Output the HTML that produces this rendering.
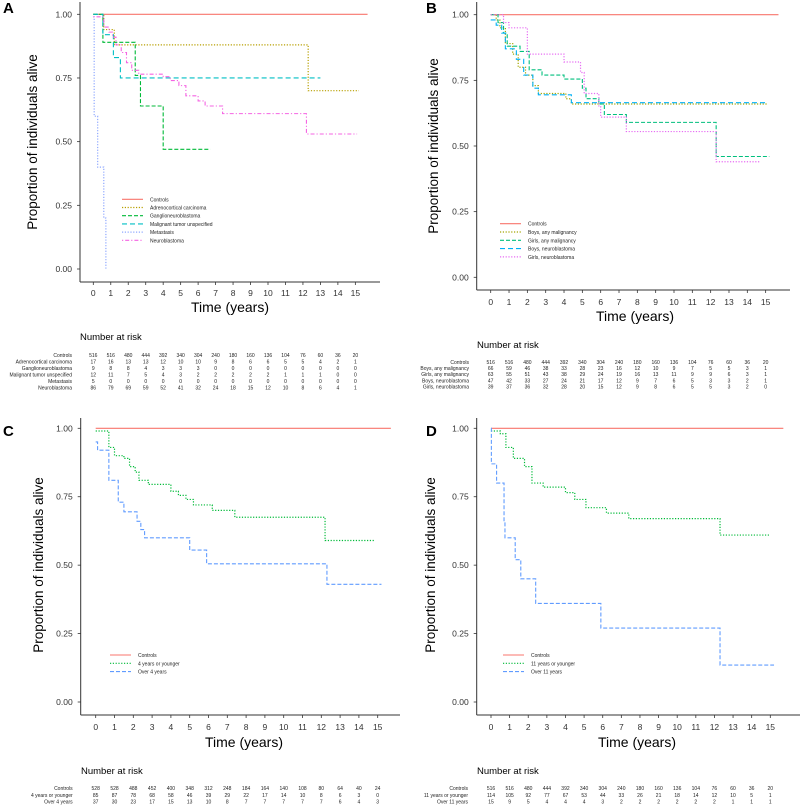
<!DOCTYPE html>
<html><head><meta charset="utf-8">
<style>
html,body{margin:0;padding:0;background:#fff;}
svg{display:block;font-family:"Liberation Sans",Arial,sans-serif;}
</style></head>
<body>
<svg id="fig" width="800" height="807" viewBox="0 0 800 807" xmlns="http://www.w3.org/2000/svg"></svg>
<script>
// ---------- DATA ----------
const riskTimes = [0,1,2,3,4,5,6,7,8,9,10,11,12,13,14,15];
const yTicks = [0,0.25,0.5,0.75,1];
const yTickLabels = ["0.00","0.25","0.50","0.75","1.00"];

// Panel A
const aNames = ["Controls","Adrenocortical carcinoma","Ganglioneuroblastoma","Malignant tumor unspecified","Metastasis","Neuroblastoma"];
const aControlsT = [0]; const aControlsV = [1]; const aControlsEnd = 15.7;
const aAdrenoT = [0,0.6,1.2,12.3]; const aAdrenoV = [1,0.94,0.88,0.70]; const aAdrenoEnd = 15.2;
const aGanglioT = [0,0.55,2.4,2.7,4.0]; const aGanglioV = [1,0.89,0.76,0.64,0.47]; const aGanglioEnd = 6.7;
const aMalignT = [0,0.55,1.15,1.55]; const aMalignV = [1,0.92,0.83,0.75]; const aMalignEnd = 13.0;
const aMetaT = [0,0.05,0.25,0.6,0.72]; const aMetaV = [0.99,0.6,0.4,0.2,0]; const aMetaEnd = 0.72;
const aNeuroT = [0,0.6,0.9,1.1,1.3,1.6,1.9,2.2,2.6,4.0,4.4,4.9,5.3,6.0,6.4,7.4,12.2];
const aNeuroV = [0.99,0.95,0.93,0.91,0.88,0.85,0.81,0.78,0.765,0.755,0.74,0.72,0.68,0.66,0.64,0.61,0.53];
const aNeuroEnd = 15.1;
const aRiskControls = [516,516,480,444,392,340,304,240,180,160,136,104,76,60,36,20];
const aRiskAdreno = [17,16,13,13,12,10,10,9,8,6,6,5,5,4,2,1];
const aRiskGanglio = [9,8,8,4,3,3,3,0,0,0,0,0,0,0,0,0];
const aRiskMalign = [12,11,7,5,4,3,2,2,2,2,2,1,1,1,0,0];
const aRiskMeta = [5,0,0,0,0,0,0,0,0,0,0,0,0,0,0,0];
const aRiskNeuro = [86,79,69,59,52,41,32,24,18,15,12,10,8,6,4,1];

// Panel B
const bNames = ["Controls","Boys, any malignancy","Girls, any malignancy","Boys, neuroblastoma","Girls, neuroblastoma"];
const bControlsT = [0]; const bControlsV = [1]; const bControlsEnd = 15.7;
const bBoysAnyT = [0,0.3,0.5,0.8,1.2,1.5,1.9,2.3,2.6,4.1,4.4]; const bBoysAnyV = [1,0.98,0.95,0.89,0.85,0.80,0.77,0.73,0.70,0.68,0.66]; const bBoysAnyEnd = 15.1;
const bGirlsAnyT = [0,0.4,0.7,0.9,1.6,2.1,2.8,4.0,5.0,5.2,5.9,6.2,7.4,12.3]; const bGirlsAnyV = [1,0.97,0.93,0.88,0.86,0.79,0.77,0.755,0.72,0.68,0.66,0.62,0.59,0.46]; const bGirlsAnyEnd = 15.2;
const bBoysNeuroT = [0,0.3,0.6,0.8,1.4,1.8,2.3,2.6,4.4]; const bBoysNeuroV = [0.98,0.96,0.93,0.87,0.83,0.77,0.72,0.695,0.665]; const bBoysNeuroEnd = 15.1;
const bGirlsNeuroT = [0,0.7,1.0,2.0,4.0,4.9,5.1,5.9,6.0,7.4,12.3]; const bGirlsNeuroV = [1,0.97,0.95,0.85,0.82,0.78,0.70,0.65,0.61,0.555,0.44]; const bGirlsNeuroEnd = 14.7;
const bRiskControls = [516,516,480,444,392,340,304,240,180,160,136,104,76,60,36,20];
const bRiskBoysAny = [66,59,46,38,33,28,23,16,12,10,9,7,5,5,3,1];
const bRiskGirlsAny = [63,55,51,43,38,29,24,19,16,13,11,9,9,6,3,1];
const bRiskBoysNeuro = [47,42,33,27,24,21,17,12,9,7,6,5,3,3,2,1];
const bRiskGirlsNeuro = [39,37,36,32,28,20,15,12,9,8,6,5,5,3,2,0];

// Panel C
const cNames = ["Controls","4 years or younger","Over 4 years"];
const cControlsT = [0]; const cControlsV = [1]; const cControlsEnd = 15.7;
const cYoungT = [0,0.7,1.0,1.5,1.8,2.1,2.3,2.8,4.0,4.4,4.8,5.2,6.2,7.4,12.2]; const cYoungV = [0.99,0.93,0.90,0.89,0.86,0.84,0.81,0.795,0.77,0.755,0.74,0.72,0.70,0.675,0.59]; const cYoungEnd = 14.8;
const cOldT = [0,0.1,0.7,1.2,1.5,2.2,2.4,2.6,5.0,5.9,12.3]; const cOldV = [0.95,0.92,0.81,0.73,0.695,0.66,0.63,0.60,0.555,0.505,0.43]; const cOldEnd = 15.2;
const cRiskControls = [528,528,488,452,400,348,312,248,184,164,140,108,80,64,40,24];
const cRiskYoung = [85,87,78,68,58,46,39,29,22,17,14,10,8,6,3,0];
const cRiskOld = [37,30,23,17,15,13,10,8,7,7,7,7,7,6,4,3];

// Panel D
const dNames = ["Controls","11 years or younger","Over 11 years"];
const dControlsT = [0]; const dControlsV = [1]; const dControlsEnd = 15.7;
const dYoungT = [0,0.5,0.8,1.2,1.8,2.2,2.8,4.0,4.5,5.1,6.2,7.4,12.3]; const dYoungV = [0.99,0.98,0.93,0.89,0.86,0.80,0.785,0.765,0.74,0.71,0.69,0.67,0.61]; const dYoungEnd = 15.0;
const dOldT = [0,0.02,0.3,0.7,0.75,1.3,1.6,2.4,5.9,12.3]; const dOldV = [1,0.87,0.80,0.66,0.60,0.52,0.45,0.36,0.27,0.135]; const dOldEnd = 15.2;
const dRiskControls = [516,516,480,444,392,340,304,240,180,160,136,104,76,60,36,20];
const dRiskYoung = [114,105,92,77,67,53,44,33,26,21,18,14,12,10,5,1];
const dRiskOld = [15,9,5,4,4,4,3,2,2,2,2,2,2,1,1,1];

// ---------- DRAWING ----------
const NS = "http://www.w3.org/2000/svg";
const svg = document.getElementById('fig');
function el(tag, attrs, parent, text){
  const e = document.createElementNS(NS, tag);
  for (const k in attrs) e.setAttribute(k, attrs[k]);
  if (text !== undefined) e.textContent = text;
  (parent||svg).appendChild(e);
  return e;
}
const styles = {
  solid:{dash:"", w:1.1},
  dotted:{dash:"1.2 1.6", w:1.2},
  dashed:{dash:"4 2", w:1.1},
  longdash:{dash:"5 3", w:1.1},
  dotdash:{dash:"1.2 2 4 2", w:1.1}
};

function drawPanel(cfg){
  const g = el('g', {}, svg);
  
  
  const X = t => cfg.ox + t * cfg.px;
  const Y = v => cfg.y0 - v * (cfg.y0 - cfg.y1);
  // letter
  const L = el('text', {x:cfg.letterX, y:cfg.letterY, 'font-size':15, 'font-weight':'bold', fill:'#000'}, g, cfg.id.toUpperCase());
  
  
  // axes
  const ya = el('line', {x1:cfg.axisX, x2:cfg.axisX, y1:cfg.axisTop, y2:cfg.axisBottom, stroke:'#333', 'stroke-width':1}, g);
  
  
  const xa = el('line', {x1:cfg.axisX, x2:cfg.axisRight, y1:cfg.axisBottom, y2:cfg.axisBottom, stroke:'#333', 'stroke-width':1}, g);
  
  
  yTicks.forEach((v,i)=>{
    el('line',{x1:cfg.axisX-3,x2:cfg.axisX,y1:Y(v),y2:Y(v),stroke:'#333','stroke-width':0.8},g);
    const t = el('text',{x:cfg.axisX-8,y:Y(v)+3,'font-size':8.5,'text-anchor':'end',fill:'#333'},g,yTickLabels[i]);
    
    
  });
  riskTimes.forEach(tm=>{
    el('line',{x1:X(tm),x2:X(tm),y1:cfg.axisBottom,y2:cfg.axisBottom+3,stroke:'#333','stroke-width':0.8},g);
    const t = el('text',{x:X(tm),y:cfg.tickY,'font-size':8.5,'text-anchor':'middle',fill:'#333'},g,String(tm));
    
    
  });
  const xt = el('text',{x:cfg.titleX,y:cfg.titleY,'font-size':14,'text-anchor':'middle',fill:'#000'},g,'Time (years)');
  
  
  const yt = el('text',{x:0,y:0,'font-size':13.5,'text-anchor':'middle',fill:'#000',transform:`translate(${cfg.ytitleX},${cfg.ytitleY}) rotate(-90)`},g,'Proportion of individuals alive');
  
  
  // curves
  cfg.series.forEach((s,si)=>{
    let d = `M${X(s.t[0])},${Y(s.v[0])}`;
    for (let i=1;i<s.t.length;i++){ d += ` H${X(s.t[i])} V${Y(s.v[i])}`; }
    d += ` H${X(s.end)}`;
    const st = styles[s.style];
    const p = el('path',{d:d,fill:'none',stroke:s.color,'stroke-width':st.w,'stroke-dasharray':st.dash},g);
    
    
    // legend
    const ly = cfg.legY + si*cfg.legDy;
    const ll = el('line',{x1:cfg.legX,x2:cfg.legX+21,y1:ly,y2:ly,stroke:s.color,'stroke-width':st.w,'stroke-dasharray':st.dash},g);
    
    
    const lt = el('text',{x:cfg.legX+28,y:ly+2,'font-size':5,fill:'#222'},g,cfg.names[si]);
    
    
    // risk row
    const ry = cfg.rowY + si*cfg.rowDy;
    const rl = el('text',{x:cfg.rowLabelX,y:ry,'font-size':5,'text-anchor':'end',fill:'#222'},g,cfg.names[si]);
    
    
    s.risk.forEach((n,k)=>{
      const rv = el('text',{x:X(riskTimes[k]),y:ry,'font-size':5,'text-anchor':'middle',fill:'#222'},g,String(n));
      
      
    });
  });
  const nr = el('text',{x:cfg.narX,y:cfg.narY,'font-size':9.5,fill:'#000'},g,'Number at risk');
  
  
}

const RED="#F8766D";
drawPanel({id:'a', names:aNames, letterX:3, letterY:13,
  ox:93.3, px:17.47, y1:14.3, y0:269, axisX:80, axisTop:2, axisBottom:282, axisRight:380,
  tickY:296, titleX:230, titleY:312, ytitleX:37, ytitleY:142,
  legX:122, legY:199.3, legDy:8.2, narX:80, narY:340, rowY:357, rowDy:6.5, rowLabelX:72,
  series:[
    {t:aControlsT,v:aControlsV,end:aControlsEnd,color:RED,style:'solid',risk:aRiskControls},
    {t:aAdrenoT,v:aAdrenoV,end:aAdrenoEnd,color:"#B79F00",style:'dotted',risk:aRiskAdreno},
    {t:aGanglioT,v:aGanglioV,end:aGanglioEnd,color:"#00BA38",style:'dashed',risk:aRiskGanglio},
    {t:aMalignT,v:aMalignV,end:aMalignEnd,color:"#00BFC4",style:'longdash',risk:aRiskMalign},
    {t:aMetaT,v:aMetaV,end:aMetaEnd,color:"#8FA8FF",style:'dotted',risk:aRiskMeta},
    {t:aNeuroT,v:aNeuroV,end:aNeuroEnd,color:"#F564E3",style:'dotdash',risk:aRiskNeuro}
  ]});
drawPanel({id:'b', names:bNames, letterX:426, letterY:13,
  ox:490.7, px:18.33, y1:14.7, y0:277.3, axisX:476.7, axisTop:2, axisBottom:290, axisRight:790,
  tickY:305, titleX:635, titleY:321, ytitleX:438, ytitleY:146,
  legX:500, legY:223.7, legDy:8.3, narX:477, narY:348, rowY:364, rowDy:6.1, rowLabelX:469,
  series:[
    {t:bControlsT,v:bControlsV,end:bControlsEnd,color:RED,style:'solid',risk:bRiskControls},
    {t:bBoysAnyT,v:bBoysAnyV,end:bBoysAnyEnd,color:"#A3A500",style:'dotted',risk:bRiskBoysAny},
    {t:bGirlsAnyT,v:bGirlsAnyV,end:bGirlsAnyEnd,color:"#00BF7D",style:'dashed',risk:bRiskGirlsAny},
    {t:bBoysNeuroT,v:bBoysNeuroV,end:bBoysNeuroEnd,color:"#00B0F6",style:'longdash',risk:bRiskBoysNeuro},
    {t:bGirlsNeuroT,v:bGirlsNeuroV,end:bGirlsNeuroEnd,color:"#E76BF3",style:'dotted',risk:bRiskGirlsNeuro}
  ]});
drawPanel({id:'c', names:cNames, letterX:3, letterY:436,
  ox:95.7, px:18.8, y1:428.3, y0:702, axisX:80.7, axisTop:418, axisBottom:715, axisRight:400,
  tickY:730, titleX:244, titleY:747, ytitleX:43, ytitleY:565,
  legX:110, legY:655, legDy:8.3, narX:81, narY:774, rowY:790, rowDy:6.8, rowLabelX:72.7,
  series:[
    {t:cControlsT,v:cControlsV,end:cControlsEnd,color:RED,style:'solid',risk:cRiskControls},
    {t:cYoungT,v:cYoungV,end:cYoungEnd,color:"#00BA38",style:'dotted',risk:cRiskYoung},
    {t:cOldT,v:cOldV,end:cOldEnd,color:"#619CFF",style:'dashed',risk:cRiskOld}
  ]});
drawPanel({id:'d', names:dNames, letterX:426, letterY:436,
  ox:491, px:18.62, y1:428.3, y0:702, axisX:476.7, axisTop:418, axisBottom:715, axisRight:800,
  tickY:730, titleX:637, titleY:747, ytitleX:435, ytitleY:565,
  legX:503, legY:655, legDy:8.3, narX:477, narY:774, rowY:790, rowDy:6.8, rowLabelX:468,
  series:[
    {t:dControlsT,v:dControlsV,end:dControlsEnd,color:RED,style:'solid',risk:dRiskControls},
    {t:dYoungT,v:dYoungV,end:dYoungEnd,color:"#00BA38",style:'dotted',risk:dRiskYoung},
    {t:dOldT,v:dOldV,end:dOldEnd,color:"#619CFF",style:'dashed',risk:dRiskOld}
  ]});
</script>
</body></html>
